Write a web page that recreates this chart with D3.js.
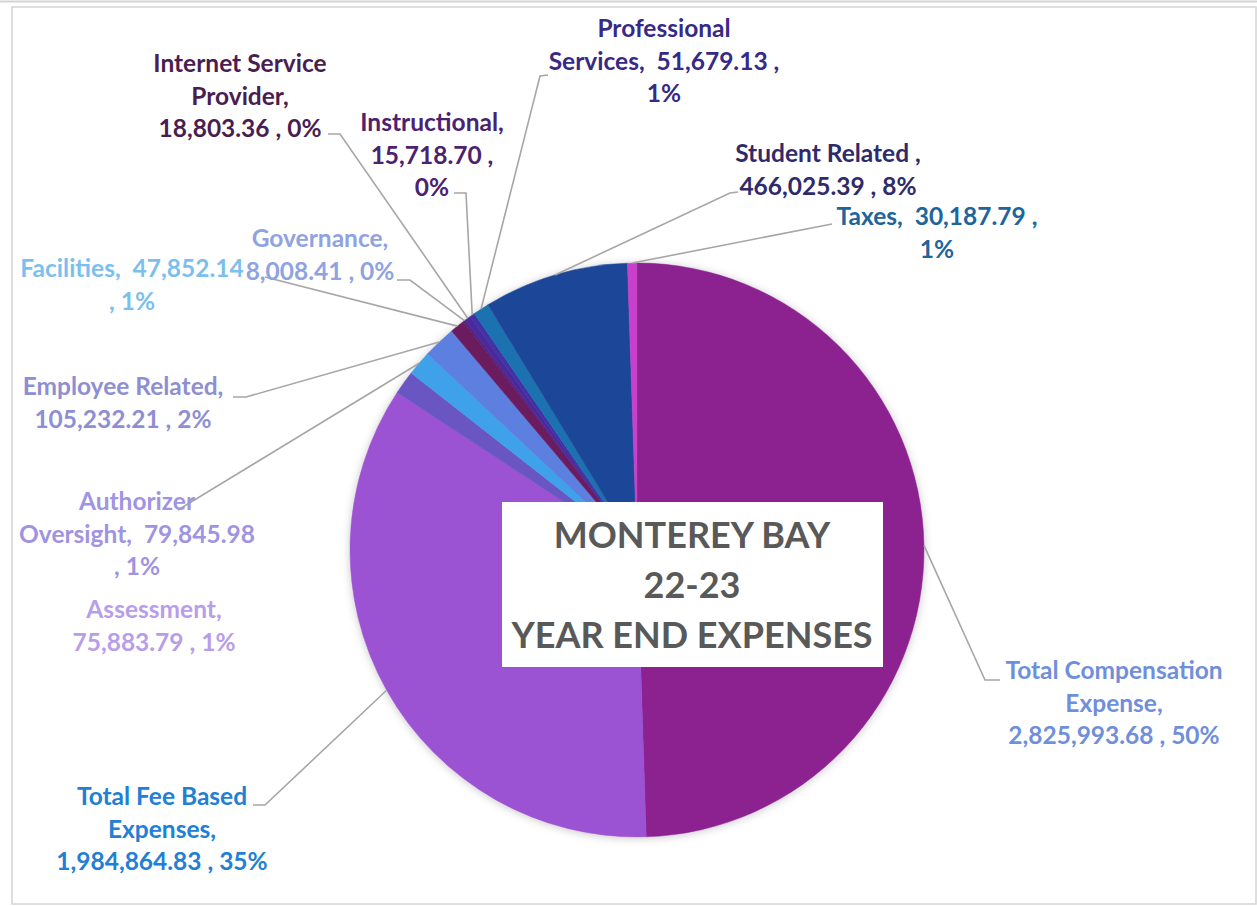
<!DOCTYPE html>
<html>
<head>
<meta charset="utf-8">
<script src="https://cdn.jsdelivr.net/npm/d3@7"></script>
<style>
  html, body { margin: 0; padding: 0; background: #ffffff; }
  svg { display: block; }
  text { font-family: Lato, "Open Sans", sans-serif; font-weight: bold; }
</style>
</head>
<body>
<svg id="chart" width="1257" height="906"></svg>
<script>
// ---- data ----
const categories = [
  "Total Compensation Expense",
  "Total Fee Based Expenses",
  "Assessment",
  "Authorizer Oversight",
  "Employee Related",
  "Facilities",
  "Governance",
  "Internet Service Provider",
  "Instructional",
  "Professional Services",
  "Student Related ",
  "Taxes"
];
const values = [
  2825993.68, 1984864.83, 75883.79, 79845.98, 105232.21, 47852.14,
  8008.41, 18803.36, 15718.70, 51679.13, 466025.39, 30187.79
];
const percentLabels = [50, 35, 1, 1, 2, 1, 0, 0, 0, 1, 8, 1];
const titleLines = ["MONTEREY BAY", "22-23", "YEAR END EXPENSES"];

// ---- styles ----
const sliceColors = [
  "#8b2190", "#9b52d3", "#6a56c3", "#3fa1eb", "#5b7fe0", "#6b1b5f",
  "#55237f", "#4a2a9c", "#4330a6", "#1b72b0", "#1f4798", "#c941cb"
];
const labelColors = [
  "#6f8fdb", "#2180d4", "#b89de9", "#9f94e2", "#8e8fd2", "#7cbfee",
  "#8fa3e0", "#4a1d52", "#4b2270", "#372a86", "#2f2b6a", "#20649c"
];
// label layout: centre x, first baseline y, words per line, leader start & elbow
const labelLayout = [
  { cx: 1114, y: 679, wrap: [2, 1, 3], leader: [[1000, 680], [985, 680]] },
  { cx: 162,  y: 805, wrap: [3, 1, 3], leader: [[253, 805], [265, 805]] },
  { cx: 154,  y: 618, wrap: [1, 3],    leader: null },
  { cx: 137,  y: 510, wrap: [1, 2, 2], leader: [[178, 510], [178, 510]] },
  { cx: 123,  y: 395, wrap: [2, 3],    leader: [[233, 397], [246, 397]] },
  { cx: 132,  y: 277, wrap: [2, 2],    leader: [[265, 277], [265, 277]] },
  { cx: 320,  y: 247, wrap: [1, 3],    leader: [[397, 280], [410, 280]] },
  { cx: 240,  y: 72,  wrap: [2, 1, 3], leader: [[328, 134], [340, 134]] },
  { cx: 432,  y: 131, wrap: [1, 2, 1], leader: [[454, 193], [466, 193]] },
  { cx: 664,  y: 37,  wrap: [1, 3, 1], leader: [[548, 75], [540, 76]] },
  { cx: 828,  y: 162, wrap: [3, 3],    leader: [[738, 192], [730, 193]] },
  { cx: 937,  y: 225, wrap: [3, 1],    leader: [[832, 224], [832, 224]] }
];
const lineHeight = 32.5;
const labelFontSize = 24.5;

// ---- drawing ----
const svg = d3.select("#chart");
const W = 1257, H = 906;
const cx = 637, cy = 550, R = 287;

// frame
svg.append("line").attr("x1", 0).attr("x2", W).attr("y1", 1.5).attr("y2", 1.5)
  .attr("stroke", "#d4d4d4").attr("stroke-width", 2);
svg.append("rect").attr("x", 12).attr("y", 7).attr("width", W - 13).attr("height", H - 9)
  .attr("fill", "none").attr("stroke", "#d4d4d4").attr("stroke-width", 1.5);

const defs = svg.append("defs");
const f = defs.append("filter").attr("id", "shadow").attr("x", "-10%").attr("y", "-10%")
  .attr("width", "120%").attr("height", "120%");
f.append("feDropShadow").attr("dx", 0).attr("dy", 1).attr("stdDeviation", 4)
  .attr("flood-color", "#000").attr("flood-opacity", 0.22);

const data = categories.map((c, i) => ({ name: c, value: values[i], pct: percentLabels[i], i }));
const pie = d3.pie().sort(null).value(d => d.value);
const arcs = pie(data);
const arc = d3.arc().innerRadius(0).outerRadius(R);
const edge = d3.arc().innerRadius(R).outerRadius(R);

const g = svg.append("g").attr("transform", `translate(${cx},${cy})`);
g.append("g").attr("filter", "url(#shadow)")
  .selectAll("path").data(arcs).join("path")
  .attr("d", arc)
  .attr("fill", d => sliceColors[d.data.i])
  .attr("stroke", d => sliceColors[d.data.i])
  .attr("stroke-width", 0.5);

// leader lines
const fmt = d3.format(",.2f");
arcs.forEach(a => {
  const L = labelLayout[a.data.i];
  if (!L.leader) return;
  const p = edge.centroid(a);
  const pts = [L.leader[0], L.leader[1], [cx + p[0], cy + p[1]]];
  svg.append("path")
    .attr("d", d3.line()(pts))
    .attr("fill", "none")
    .attr("stroke", "#a6a6a6")
    .attr("stroke-width", 1.6);
});

// labels (Excel-style "Name,  value , pct%")
arcs.forEach(a => {
  const d = a.data;
  const L = labelLayout[d.i];
  const full = `${d.name},\u00a0 ${fmt(d.value)} , ${d.pct}%`;
  const tokens = full.split(/ +/);
  const lines = [];
  let k = 0;
  L.wrap.forEach(n => {
    lines.push(tokens.slice(k, k + n).join(" ").replace(/\u00a0$/, "").trim());
    k += n;
  });
  const t = svg.append("text")
    .attr("text-anchor", "middle")
    .attr("font-size", labelFontSize)
    .attr("fill", labelColors[d.i]);
  lines.forEach((ln, j) => {
    t.append("tspan").attr("x", L.cx).attr("y", L.y + j * lineHeight).text(ln);
  });
});

// title box
svg.append("rect").attr("x", 502).attr("y", 502).attr("width", 381).attr("height", 165)
  .attr("fill", "#ffffff");
const tt = svg.append("text").attr("text-anchor", "middle").attr("font-size", 36)
  .attr("fill", "#595959");
titleLines.forEach((ln, j) => {
  tt.append("tspan").attr("x", 692).attr("y", 548 + j * 50).text(ln);
});
</script>
</body>
</html>
